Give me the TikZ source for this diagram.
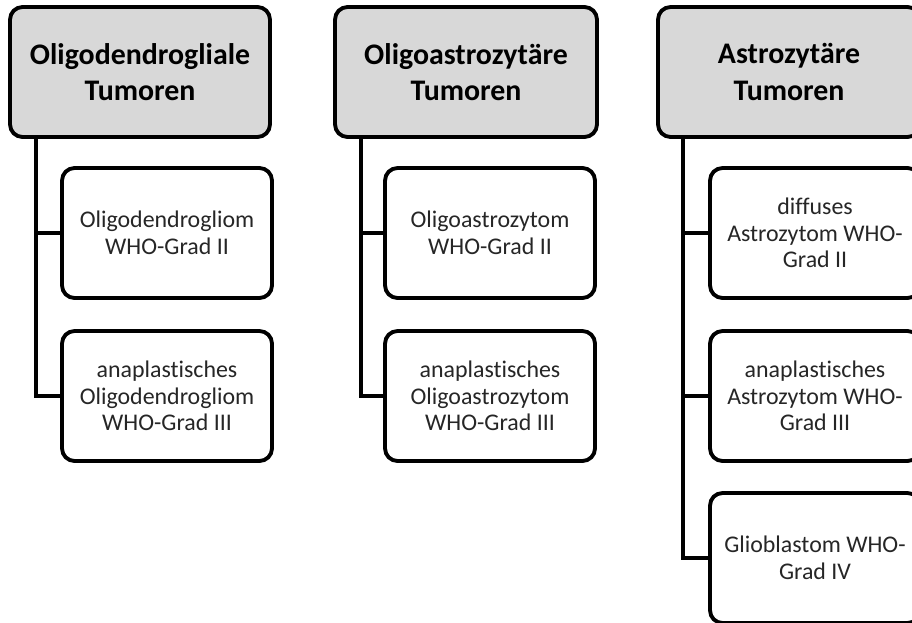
\documentclass[tikz,border=0pt]{standalone}
\usepackage{fontspec}
\setmainfont{Carlito}[Ligatures=NoCommon]
\definecolor{headgray}{RGB}{216,216,216}

\begin{document}
\begin{tikzpicture}[x=0.02cm, y=-0.02cm,
    head/.style={draw, line width=2.2pt, rounded corners=0.25cm, fill=headgray, minimum width=5.2cm, minimum height=2.6cm, inner sep=0pt, align=center, font=\fontsize{17}{20.5}\selectfont\bfseries},
    tumor/.style={draw, line width=2.2pt, rounded corners=0.25cm, fill=white, minimum width=4.2cm, minimum height=2.6cm, inner sep=0pt, align=center, text=black!85, font=\fontsize{13.6}{15.2}\selectfont},
    link/.style={line width=2.2pt}]
    \useasboundingbox (0,0) rectangle (912,622);
    \clip (0,0) rectangle (912,622);

    % oligodendrogliale
    \node[head] (oligo) at (140,72) {Oligodendrogliale\\Tumoren};
    \node[tumor] (oligo2) at (167,233) {Oligodendrogliom\\WHO-Grad II};
    \node[tumor] (oligo3) at (167,396) {anaplastisches\\Oligodendrogliom\\WHO-Grad III};
    \coordinate (oligot) at ([xshift=0.56cm]oligo.south west);
    \draw[link] (oligot) |- (oligo2.west);
    \draw[link] (oligot) |- (oligo3.west);

    % oligoastrozytaere
    \node[head, minimum width=5.24cm] (mixed) at (466,72) {Oligoastrozytäre\\Tumoren};
    \node[tumor] (mixed2) at (490,233) {Oligoastrozytom\\WHO-Grad II};
    \node[tumor] (mixed3) at (490,396) {anaplastisches\\Oligoastrozytom\\WHO-Grad III};
    \coordinate (mixedt) at ([xshift=0.56cm]mixed.south west);
    \draw[link] (mixedt) |- (mixed2.west);
    \draw[link] (mixedt) |- (mixed3.west);

    % astrozytaere
    \node[head, minimum width=5.24cm] (astro) at (789,72) {Astrozytäre\\Tumoren};
    \node[tumor] (astro2) at (815,233) {diffuses\\Astrozytom WHO-\\Grad II};
    \node[tumor] (astro3) at (815,396) {anaplastisches\\Astrozytom WHO-\\Grad III};
    \node[tumor] (astro4) at (815,558) {Glioblastom WHO-\\Grad IV};
    \coordinate (astrot) at ([xshift=0.54cm]astro.south west);
    \draw[link] (astrot) |- (astro2.west);
    \draw[link] (astrot) |- (astro3.west);
    \draw[link] (astrot) |- (astro4.west);
\end{tikzpicture}
\end{document}
